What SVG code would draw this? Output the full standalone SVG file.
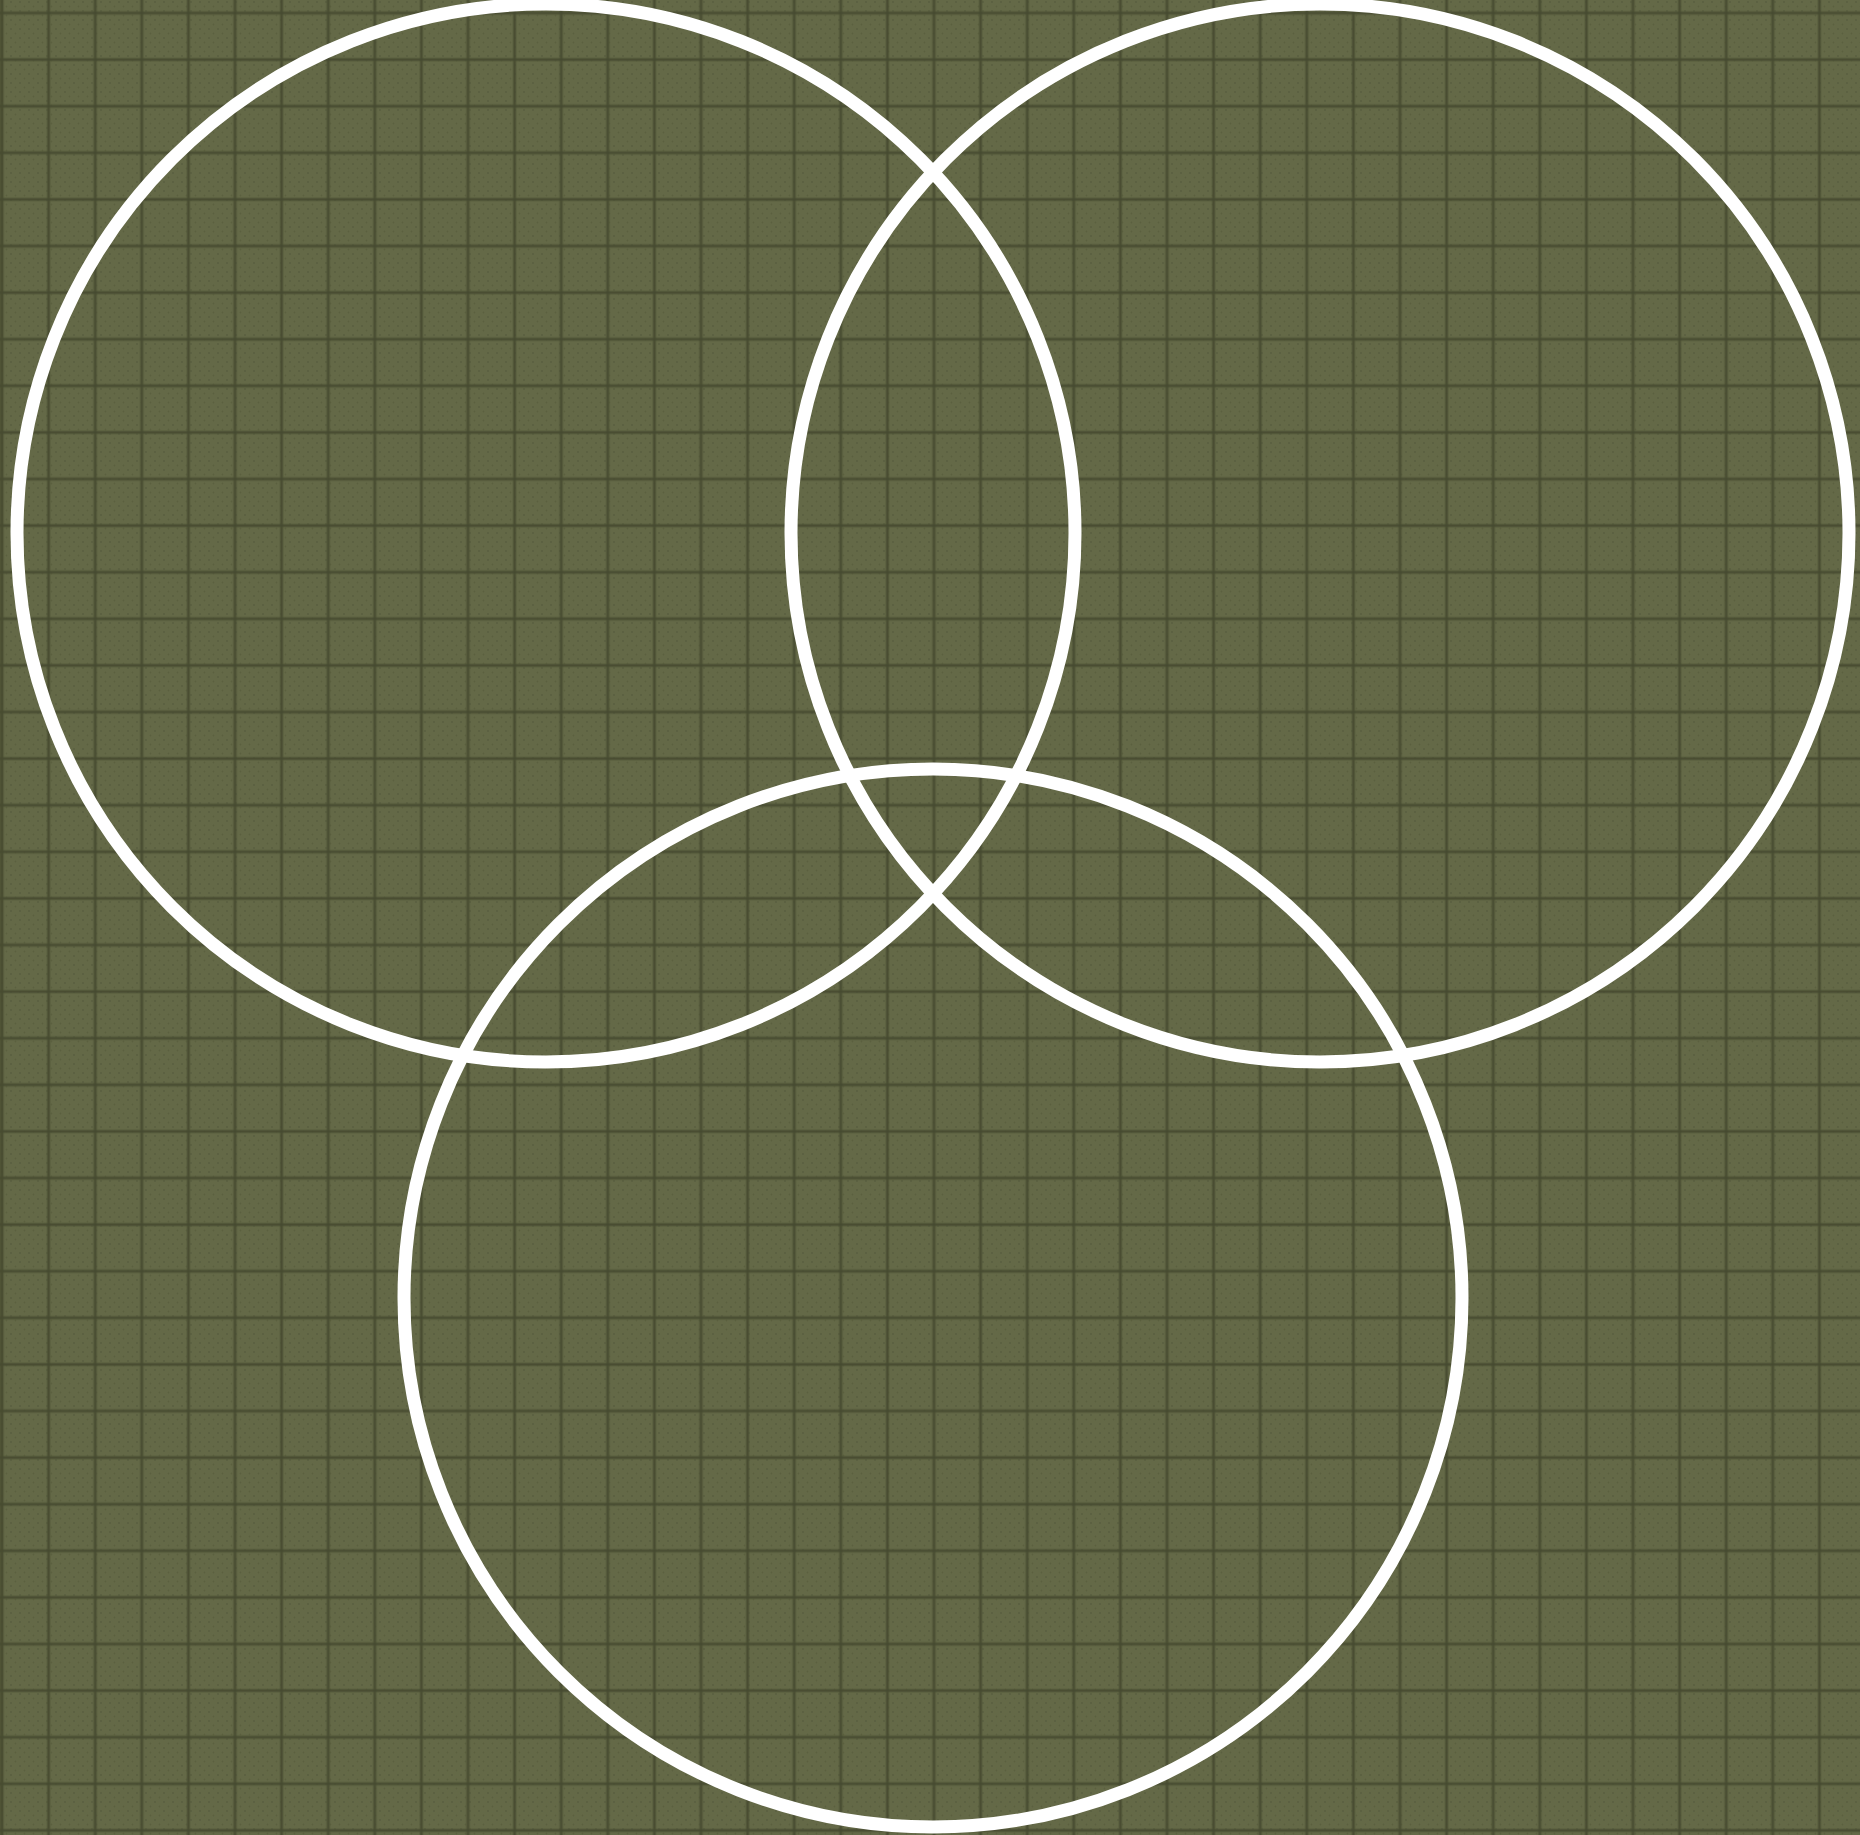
<svg xmlns="http://www.w3.org/2000/svg" width="1860" height="1835" viewBox="0 0 1860 1835">
  <defs>
    <pattern id="dots" width="9" height="9" patternUnits="userSpaceOnUse">
      <circle cx="2" cy="2" r="0.9" fill="#4f5436" opacity="0.55"/>
      <circle cx="6.5" cy="6.5" r="0.9" fill="#4f5436" opacity="0.45"/>
    </pattern>
    <pattern id="grid" x="-21.3" y="-10.3" width="46.6" height="46.6" patternUnits="userSpaceOnUse">
      <rect x="21.3" y="0" width="4" height="46.6" fill="#4a4d31" opacity="0.45"/>
      <rect x="22.3" y="0" width="2" height="46.6" fill="#454830" opacity="0.8"/>
      <rect x="0" y="21.3" width="46.6" height="4" fill="#4a4d31" opacity="0.45"/>
      <rect x="0" y="22.3" width="46.6" height="2" fill="#454830" opacity="0.8"/>
    </pattern>
  </defs>
  <style>
    .ring { fill: none; stroke: #ffffff; stroke-width: 13; }
  </style>
  <g id="background">
    <rect width="1860" height="1835" fill="#646947"/>
    <rect width="1860" height="1835" fill="url(#dots)"/>
    <rect width="1860" height="1835" fill="url(#grid)"/>
    <rect x="0" y="0" width="3" height="1835" fill="#4a4d31" opacity="0.6"/>
  </g>
  <g id="circle-left">
    <circle class="ring" cx="546" cy="533" r="529"/>
  </g>
  <g id="circle-right">
    <circle class="ring" cx="1320" cy="533" r="529"/>
  </g>
  <g id="circle-bottom">
    <circle class="ring" cx="933" cy="1298" r="529"/>
  </g>
  <g id="connectors"/>
</svg>
